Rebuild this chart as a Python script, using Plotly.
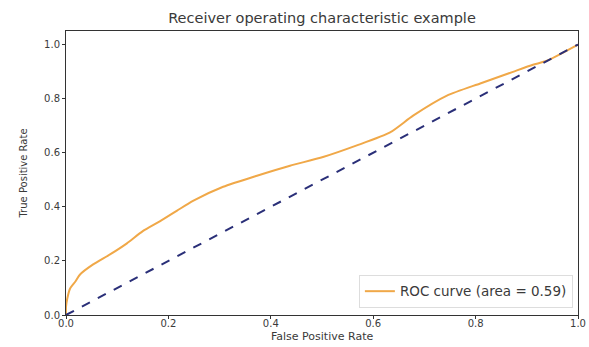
import plotly.graph_objects as go

# ROC curve points (false positive rate, true positive rate)
fpr = [0.0, 0.0, 0.0025, 0.008, 0.018, 0.027, 0.053, 0.086, 0.119, 0.150, 0.184,
       0.217, 0.248, 0.307, 0.373, 0.4375, 0.502, 0.568, 0.633, 0.678,
       0.744, 0.809, 0.873, 0.912, 0.939, 1.0]
tpr = [0.0, 0.03, 0.061, 0.098, 0.123, 0.149, 0.187, 0.224, 0.265, 0.31, 0.347,
       0.386, 0.422, 0.474, 0.515, 0.552, 0.584, 0.627, 0.675, 0.737,
       0.811, 0.856, 0.899, 0.925, 0.940, 1.0]
roc_auc = 0.59

chance_x = [0, 1]
chance_y = [0, 1]

ticks = [0.0, 0.2, 0.4, 0.6, 0.8, 1.0]
tick_text = ["0.0", "0.2", "0.4", "0.6", "0.8", "1.0"]

font_family = "DejaVu Sans, sans-serif"
text_color = "#3a3a3a"

fig = go.Figure()
fig.add_trace(go.Scatter(
    x=fpr, y=tpr, mode="lines",
    line=dict(color="#f0a848", width=2, shape="spline", smoothing=0.6),
    name=f"ROC curve (area = {roc_auc:.2f})",
))
fig.add_trace(go.Scatter(
    x=chance_x, y=chance_y, mode="lines",
    line=dict(color="#2a2f78", width=2, dash="dash"),
    showlegend=False,
))

axis_common = dict(
    showgrid=False, zeroline=False, showline=True, linecolor="#333333",
    linewidth=1, mirror=True, ticks="outside", ticklen=3, tickcolor="#333333",
    tickvals=ticks, ticktext=tick_text, automargin=False,
    tickfont=dict(family=font_family, size=10, color=text_color),
)

fig.update_layout(
    width=589, height=347,
    margin=dict(l=66, r=11, t=31, b=32),
    paper_bgcolor="white", plot_bgcolor="white",
    title=dict(
        text="Receiver operating characteristic example",
        x=(66 + 578) / 2 / 589, xanchor="center", y=1 - 18 / 347, yanchor="middle",
        font=dict(family=font_family, size=14.5, color=text_color),
    ),
    xaxis=dict(range=[0, 1], ticklabelstandoff=-4, **axis_common),
    yaxis=dict(range=[0, 1.05], title=dict(text="True Positive Rate", standoff=14,
               font=dict(family=font_family, size=10, color=text_color)), **axis_common),
    legend=dict(
        x=0.99, y=0.025, xanchor="right", yanchor="bottom",
        bgcolor="white", bordercolor="#dddddd", borderwidth=1,
        itemwidth=30, tracegroupgap=0,
        font=dict(family=font_family, size=13.5, color=text_color),
    ),
    showlegend=True,
)

# x-axis title sits just under the tick labels
fig.add_annotation(
    text="False Positive Rate", xref="paper", yref="paper",
    x=0.5, y=-(337 - 315) / 284, xanchor="center", yanchor="middle",
    showarrow=False, font=dict(family=font_family, size=11, color=text_color),
)

fig.write_html("out.html")
